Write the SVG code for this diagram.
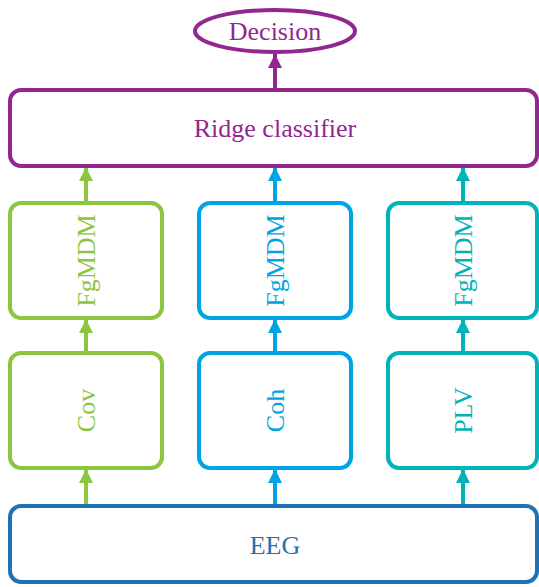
<svg xmlns="http://www.w3.org/2000/svg" width="539" height="587" viewBox="0 0 539 587">
<style>
  text { font-family: "Liberation Serif", "Times New Roman", serif; text-anchor: middle; dominant-baseline: central; font-size: 26px; }
  .box { fill: #ffffff; stroke-width: 4; }
  .pur { stroke: #92278f; } .tpur { fill: #92278f; }
  .grn { stroke: #8cc63f; } .tgrn { fill: #8cc63f; }
  .blu { stroke: #00a4e4; } .tblu { fill: #00a4e4; }
  .tea { stroke: #00b3b8; } .ttea { fill: #00b3b8; }
  .dbl { stroke: #1f72b4; } .tdbl { fill: #2a6ea8; }
  .arr { stroke-width: 4; fill: none; }
</style>
<defs>
  <marker id="mp" viewBox="0 0 10 10" refX="10" refY="5" markerWidth="3.6" markerHeight="3.6" markerUnits="strokeWidth" orient="auto"><path d="M0,0 L10,5 L0,10 z" fill="#92278f"/></marker>
  <marker id="mg" viewBox="0 0 10 10" refX="10" refY="5" markerWidth="3.6" markerHeight="3.6" markerUnits="strokeWidth" orient="auto"><path d="M0,0 L10,5 L0,10 z" fill="#8cc63f"/></marker>
  <marker id="mb" viewBox="0 0 10 10" refX="10" refY="5" markerWidth="3.6" markerHeight="3.6" markerUnits="strokeWidth" orient="auto"><path d="M0,0 L10,5 L0,10 z" fill="#00a4e4"/></marker>
  <marker id="mt" viewBox="0 0 10 10" refX="10" refY="5" markerWidth="3.6" markerHeight="3.6" markerUnits="strokeWidth" orient="auto"><path d="M0,0 L10,5 L0,10 z" fill="#00b3b8"/></marker>
</defs>

<g id="connectors">
  <line class="arr pur" x1="275" y1="90" x2="275" y2="54" marker-end="url(#mp)"/>
  <line class="arr grn" x1="86" y1="203" x2="86" y2="167" marker-end="url(#mg)"/>
  <line class="arr grn" x1="86" y1="353" x2="86" y2="319" marker-end="url(#mg)"/>
  <line class="arr grn" x1="86" y1="506" x2="86" y2="469" marker-end="url(#mg)"/>
  <line class="arr blu" x1="275" y1="203" x2="275" y2="167" marker-end="url(#mb)"/>
  <line class="arr blu" x1="275" y1="353" x2="275" y2="319" marker-end="url(#mb)"/>
  <line class="arr blu" x1="275" y1="506" x2="275" y2="469" marker-end="url(#mb)"/>
  <line class="arr tea" x1="463" y1="203" x2="463" y2="167" marker-end="url(#mt)"/>
  <line class="arr tea" x1="463" y1="353" x2="463" y2="319" marker-end="url(#mt)"/>
  <line class="arr tea" x1="463" y1="506" x2="463" y2="469" marker-end="url(#mt)"/>
</g>

<g id="decision">
  <ellipse class="box pur" cx="275" cy="31" rx="80" ry="21"/>
  <text class="tpur" x="275" y="31">Decision</text>
</g>
<g id="ridge">
  <rect class="box pur" x="10" y="90" width="527" height="76" rx="11"/>
  <text class="tpur" x="275" y="128">Ridge classifier</text>
</g>

<g id="fgmdm-cov">
  <rect class="box grn" x="10" y="203" width="152" height="115" rx="11"/>
  <text class="tgrn" transform="translate(86,260.5) rotate(-90)">FgMDM</text>
</g>
<g id="fgmdm-coh">
  <rect class="box blu" x="199" y="203" width="152" height="115" rx="11"/>
  <text class="tblu" transform="translate(275,260.5) rotate(-90)">FgMDM</text>
</g>
<g id="fgmdm-plv">
  <rect class="box tea" x="388" y="203" width="149" height="115" rx="11"/>
  <text class="ttea" transform="translate(463,260.5) rotate(-90)">FgMDM</text>
</g>

<g id="cov">
  <rect class="box grn" x="10" y="353" width="152" height="115" rx="11"/>
  <text class="tgrn" transform="translate(86,410.5) rotate(-90)">Cov</text>
</g>
<g id="coh">
  <rect class="box blu" x="199" y="353" width="152" height="115" rx="11"/>
  <text class="tblu" transform="translate(275,410.5) rotate(-90)">Coh</text>
</g>
<g id="plv">
  <rect class="box tea" x="388" y="353" width="149" height="115" rx="11"/>
  <text class="ttea" transform="translate(463,410.5) rotate(-90)">PLV</text>
</g>

<g id="eeg">
  <rect class="box dbl" x="10" y="506" width="527" height="76" rx="11"/>
  <text class="tdbl" x="275" y="545">EEG</text>
</g>
</svg>
